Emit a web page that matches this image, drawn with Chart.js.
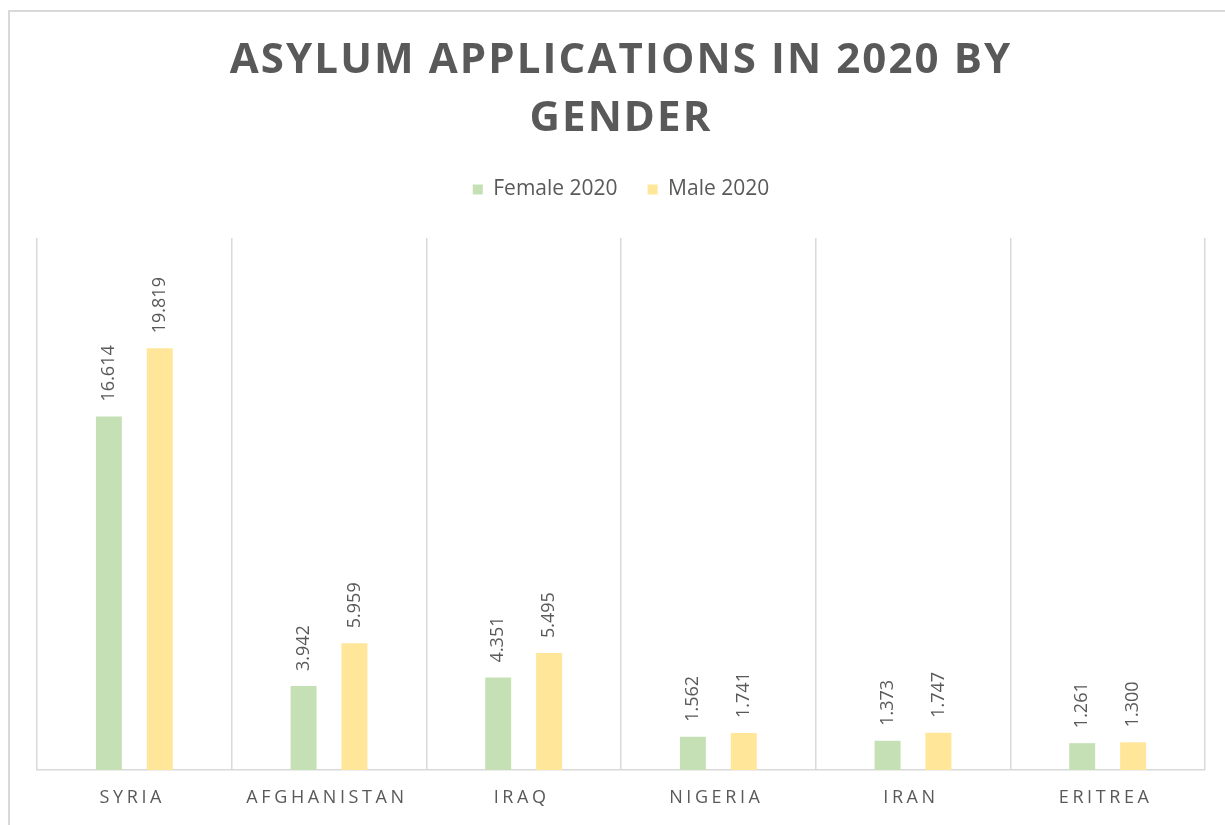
<!DOCTYPE html>
<html>
<head>
<meta charset="utf-8">
<script src="https://cdn.jsdelivr.net/npm/chart.js@4.4.0/dist/chart.umd.min.js"></script>
<style>
  html, body { margin: 0; padding: 0; background: #fff; }
  #frame { position: absolute; left: 8px; top: 10px; width: 1240px; height: 813px;
           border-top: 2px solid #d9d9d9; border-left: 2px solid #d9d9d9; }
  #wrap { position: absolute; left: 0; top: 0; width: 1225px; height: 825px; }
</style>
</head>
<body>
<div id="frame"></div>
<div id="wrap"><canvas id="grafico"></canvas></div>
<script>
const titulo = ['ASYLUM APPLICATIONS IN 2020 BY', 'GENDER'];
const paises = ['SYRIA', 'AFGHANISTAN', 'IRAQ', 'NIGERIA', 'IRAN', 'ERITREA'];
const female2020 = [16614, 3942, 4351, 1562, 1373, 1261];
const male2020 = [19819, 5959, 5495, 1741, 1747, 1300];
const yMax = 25000;

const cinza = '#595959';

// numero no formato alemao: 16614 -> 16.614
function formata(v) {
  return v.toLocaleString('de-DE');
}

// espaco extra embaixo da legenda
const legendaEspaco = {
  id: 'legendaEspaco',
  beforeInit(chart) {
    const fitOriginal = chart.legend.fit;
    chart.legend.fit = function () {
      fitOriginal.bind(chart.legend)();
      this.height += 28;
    };
  }
};

const extras = {
  id: 'extras',
  afterDraw(chart) {
    const ctx = chart.ctx;
    const area = chart.chartArea;
    const xs = chart.scales.x;

    // titulo
    ctx.save();
    ctx.fillStyle = cinza;
    ctx.font = 'bold 42px "Open Sans"';
    ctx.textAlign = 'center';
    ctx.textBaseline = 'middle';
    ctx.letterSpacing = '2.1px';
    const cx = (area.left + area.right) / 2;
    ctx.fillText(titulo[0], cx, 61);
    ctx.fillText(titulo[1], cx, 119);
    ctx.restore();

    // rotulos do eixo x
    ctx.save();
    ctx.fillStyle = cinza;
    ctx.font = '18px "Open Sans"';
    ctx.textAlign = 'center';
    ctx.textBaseline = 'middle';
    ctx.letterSpacing = '3.6px';
    paises.forEach((p, i) => {
      ctx.fillText(p, xs.getPixelForValue(i) - 2, area.bottom + 28);
    });
    ctx.restore();

    // valores acima das barras
    ctx.save();
    ctx.fillStyle = cinza;
    ctx.font = '18px "Open Sans"';
    ctx.textAlign = 'left';
    ctx.textBaseline = 'middle';
    chart.data.datasets.forEach((ds, di) => {
      chart.getDatasetMeta(di).data.forEach((bar, i) => {
        ctx.save();
        ctx.translate(bar.x, bar.y - 15);
        ctx.rotate(-Math.PI / 2);
        ctx.fillText(formata(ds.data[i]), 0, 0);
        ctx.restore();
      });
    });
    ctx.restore();
  }
};

document.addEventListener('DOMContentLoaded', () => {
  const ctx = document.getElementById('grafico').getContext('2d');
  new Chart(ctx, {
    type: 'bar',
    data: {
      labels: paises,
      datasets: [
        { label: 'Female 2020', data: female2020, backgroundColor: '#c5e0b4' },
        { label: 'Male 2020', data: male2020, backgroundColor: '#ffe699' }
      ]
    },
    options: {
      responsive: true,
      maintainAspectRatio: false,
      animation: false,
      categoryPercentage: 0.523,
      barPercentage: 0.51,
      layout: { padding: { top: 149, left: 37, right: 20, bottom: 55 } },
      plugins: {
        title: { display: false },
        tooltip: { enabled: false },
        legend: {
          position: 'top',
          labels: {
            boxWidth: 10,
            boxHeight: 10,
            padding: 30,
            color: cinza,
            font: { family: 'Open Sans', size: 21 }
          }
        }
      },
      scales: {
        x: {
          grid: { display: true, offset: true, color: '#d9d9d9', lineWidth: 1.5, drawTicks: false },
          border: { display: true, color: '#d9d9d9', width: 1.5 },
          ticks: { display: false }
        },
        y: {
          display: false,
          min: 0,
          max: yMax
        }
      }
    },
    plugins: [legendaEspaco, extras]
  });
});
</script>
</body>
</html>
